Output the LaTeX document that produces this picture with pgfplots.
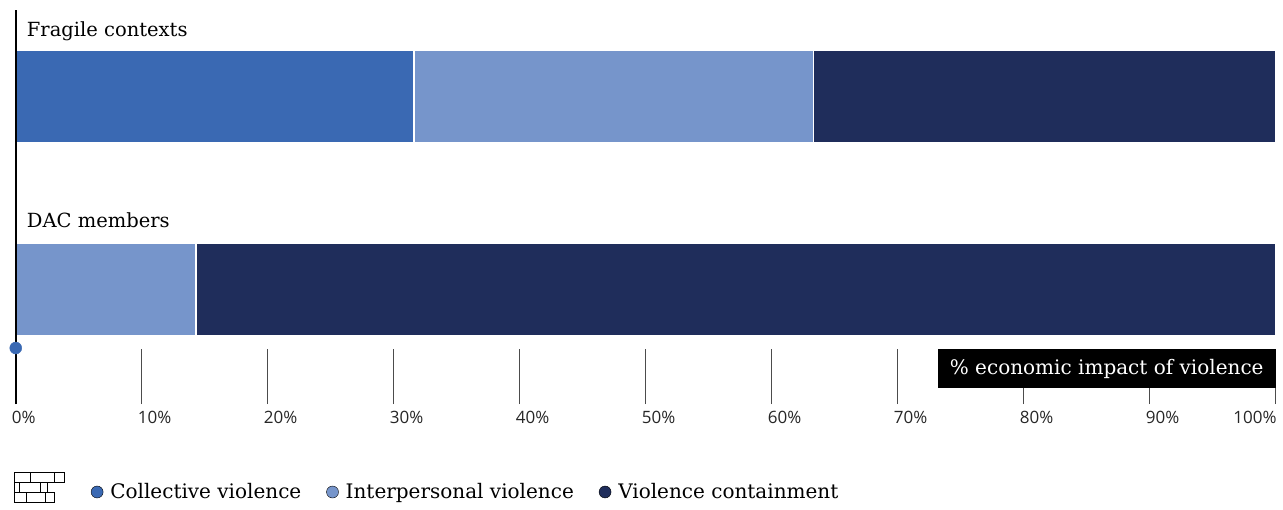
\documentclass[border=0pt]{standalone}
\usepackage{fontspec}
\setmainfont{DejaVu Serif}
\newfontfamily\ticksfont{Open Sans}
\usepackage{pgfplots}
\pgfplotsset{compat=1.18}
\definecolor{c1}{HTML}{3A69B3}
\definecolor{c2}{HTML}{7695CB}
\definecolor{c3}{HTML}{1F2D5B}
\begin{document}
\begin{tikzpicture}[x=1pt,y=1pt]
\begin{axis}[
  at={(12.5,-404)}, anchor=south west,
  scale only axis, width=1260pt, height=394pt,
  xmin=0, xmax=100, ymin=-404, ymax=-10,
  xbar stacked, bar width=93,
  axis x line*=bottom, axis y line*=left,
  x axis line style={draw=none},
  y axis line style={draw=none},
  ytick=\empty,
  xtick={0,10,...,90},
  xticklabels={0\%,10\%,20\%,30\%,40\%,50\%,60\%,70\%,80\%,90\%},
  extra x ticks={100}, extra x tick labels={100\%},
  extra x tick style={xticklabel style={anchor=north east, xshift=5pt}},
  xticklabel style={anchor=north west, xshift=-4pt, yshift=-7pt, inner sep=0pt, font=\fontsize{17pt}{20pt}\ticksfont, text=black!85},
  tick align=inside, major tick length=55pt,
  tick style={black!70, line width=1pt},
  clip=false,
  legend columns=3,
  legend style={draw=none, fill=none, at={(axis cs:5.95,-492)}, anchor=west,
    font=\fontsize{20pt}{24pt}\selectfont, inner sep=0pt,
    /tikz/every odd column/.append style={column sep=5pt},
    /tikz/every even column/.append style={column sep=23pt}},
  legend image code/.code={\fill[#1] (6pt,0pt) circle (6pt);},
  legend cell align=left,
]
\addplot[fill=c1, draw=white, line width=1.5pt, forget plot] coordinates {(31.6,-96.5) (0,-289.5)};
\addplot[fill=c2, draw=white, line width=1.5pt, forget plot] coordinates {(31.7,-96.5) (14.3,-289.5)};
\addplot[fill=c3, draw=white, line width=1.5pt, forget plot] coordinates {(36.7,-96.5) (85.7,-289.5)};
\addlegendimage{fill=c1}
\addlegendentry{Collective violence}
\addlegendimage{fill=c2}
\addlegendentry{Interpersonal violence}
\addlegendimage{fill=c3}
\addlegendentry{Violence containment}
\node[anchor=base west, font=\fontsize{19.5pt}{24pt}\selectfont, inner sep=0pt] at ([xshift=11pt]axis cs:0,-36) {Fragile contexts};
\node[anchor=base west, font=\fontsize{19.5pt}{24pt}\selectfont, inner sep=0pt] at ([xshift=11pt]axis cs:0,-227) {DAC members};
\node[fill=black, text=white, anchor=north east, minimum height=39pt, inner xsep=12pt, inner ysep=0pt, font=\fontsize{20pt}{24pt}\selectfont] at (axis cs:100,-349) {\% economic impact of violence};
\end{axis}
\begin{axis}[
  at={(12.5,-404)}, anchor=south west,
  scale only axis, width=1260pt, height=394pt,
  xmin=0, xmax=100, ymin=-404, ymax=-10,
  hide axis, clip=false,
]
\draw[black, line width=2pt] (axis cs:0,-404) -- (axis cs:0,-10);
\addplot[only marks, mark=*, mark size=6pt, c1] coordinates {(0,-348)};
\end{axis}
\begin{scope}[line width=1pt]
\draw (14,-472) rectangle (64,-482);
\draw (30,-472) -- (30,-482); \draw (54,-472) -- (54,-482);
\draw (14,-482) rectangle (47,-492);
\draw (19,-482) -- (19,-492); \draw (40,-482) -- (40,-492);
\draw (14,-492) rectangle (54,-502);
\draw (26,-492) -- (26,-502); \draw (45,-492) -- (45,-502);
\end{scope}
\pgfresetboundingbox
\path[use as bounding box] (0,0) rectangle (1283,-509);
\end{tikzpicture}
\end{document}
